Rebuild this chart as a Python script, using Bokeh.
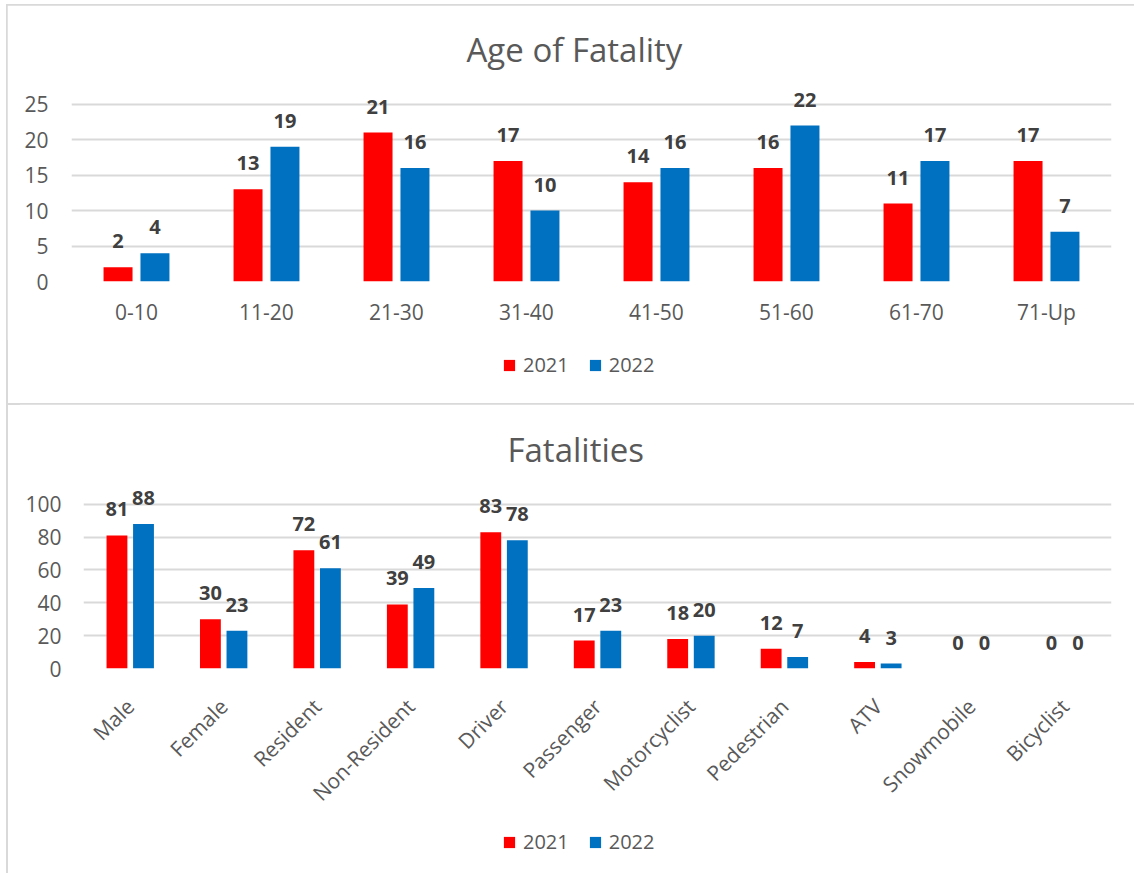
import math
from bokeh.plotting import figure
from bokeh.models import (FactorRange, Range1d, FixedTicker, Legend, LegendItem,
                          ColumnDataSource)
from bokeh.transform import dodge
from bokeh.layouts import column
from bokeh.embed import file_html
from bokeh.resources import INLINE
from bokeh.core.properties import value

# ---------------- data ----------------
years = ["2021", "2022"]

age_groups = ["0-10", "11-20", "21-30", "31-40", "41-50", "51-60", "61-70", "71-Up"]
age_2021 = [2, 13, 21, 17, 14, 16, 11, 17]
age_2022 = [4, 19, 16, 10, 16, 22, 17, 7]
age_ticks = [0, 5, 10, 15, 20, 25]

fatality_types = ["Male", "Female", "Resident", "Non-Resident", "Driver", "Passenger",
                  "Motorcyclist", "Pedestrian", "ATV", "Snowmobile", "Bicyclist"]
fat_2021 = [81, 30, 72, 39, 83, 17, 18, 12, 4, 0, 0]
fat_2022 = [88, 23, 61, 49, 78, 23, 20, 7, 3, 0, 0]
fat_ticks = [0, 20, 40, 60, 80, 100]

# ---------------- style ----------------
RED = "#FF0000"
BLUE = "#0070C0"
FONT = "Open Sans"
TXT = "#595959"
LBL = "#404040"
GRID = "#D9D9D9"
BOXW = 1130
OFF = 0.142
BW = 0.223


def make_chart(title, cats, v1, v2, ticks, ymax, width, height, bl, br, bt, bb,
               rotate, xstand, ystand, tstand, toff):
    src = ColumnDataSource(dict(cat=cats, v1=v1, v2=v2,
                                l1=[str(v) for v in v1], l2=[str(v) for v in v2]))
    p = figure(x_range=FactorRange(factors=cats, range_padding=0),
               y_range=Range1d(0, ymax), width=width, height=height,
               output_backend="svg", toolbar_location=None,
               min_border_left=bl, min_border_right=br,
               min_border_top=bt, min_border_bottom=bb)
    p.outline_line_color = None
    p.background_fill_color = "white"
    p.border_fill_color = "white"

    p.title.text = title
    p.title.align = "left"
    p.title.offset = toff
    p.title.text_font = FONT
    p.title.text_font_size = "33px"
    p.title.text_font_style = "normal"
    p.title.text_color = TXT
    p.title.standoff = tstand

    p.vbar(x=dodge("cat", -OFF, range=p.x_range), top="v1", width=BW,
           source=src, fill_color=RED, line_color=None)
    p.vbar(x=dodge("cat", OFF, range=p.x_range), top="v2", width=BW,
           source=src, fill_color=BLUE, line_color=None)

    for col, d in (("1", -OFF), ("2", OFF)):
        p.text(x=dodge("cat", d, range=p.x_range), y="v" + col, text="l" + col,
               source=src, text_align="center", text_baseline="middle",
               y_offset=-26, text_font=value(FONT), text_font_size="20px",
               text_font_style="bold", text_color=LBL)

    p.xgrid.visible = False
    p.ygrid.ticker = FixedTicker(ticks=ticks)
    p.ygrid.grid_line_color = GRID
    p.ygrid.grid_line_width = 2
    p.yaxis.ticker = FixedTicker(ticks=ticks)

    for ax in (p.xaxis, p.yaxis):
        ax.axis_line_color = None
        ax.major_tick_line_color = None
        ax.minor_tick_line_color = None
        ax.major_tick_out = 0
        ax.major_tick_in = 0
        ax.minor_tick_out = 0
        ax.minor_tick_in = 0
        ax.major_label_text_font = FONT
        ax.major_label_text_font_size = "21px"
        ax.major_label_text_color = TXT
    p.yaxis.major_label_standoff = ystand
    p.xaxis.major_label_standoff = xstand
    if rotate:
        p.xaxis.major_label_orientation = math.pi / 4
    return p, src


def make_legend(src, cats, height, loc):
    # legend strip below a chart; its proxy bars have non-numeric heights on a
    # numeric axis, so they are never drawn -- only the legend swatches show
    lf = figure(x_range=FactorRange(factors=cats, range_padding=0),
                y_range=Range1d(0, 1), width=BOXW, height=height,
                output_backend="svg", toolbar_location=None, min_border=0,
                x_axis_type=None, y_axis_type=None)
    lf.outline_line_color = None
    lf.title.visible = False
    lf.xgrid.visible = False
    lf.ygrid.visible = False
    lf.background_fill_alpha = 0
    lf.border_fill_alpha = 0
    r1 = lf.vbar(x="cat", top="cat", bottom="cat", width=0.2, source=src,
                 fill_color=RED, line_color=None)
    r2 = lf.vbar(x="cat", top="cat", bottom="cat", width=0.2, source=src,
                 fill_color=BLUE, line_color=None)
    legend = Legend(items=[LegendItem(label=years[0], renderers=[r1]),
                           LegendItem(label=years[1], renderers=[r2])],
                    orientation="horizontal", location=loc,
                    border_line_color=None, background_fill_alpha=0,
                    label_text_font=FONT, label_text_font_size="20px",
                    label_text_color=TXT, glyph_width=14, glyph_height=14,
                    label_standoff=7, spacing=19, padding=0, margin=0)
    lf.add_layout(legend, "center")
    return lf


p1, s1 = make_chart("Age of Fatality", age_groups, age_2021, age_2022, age_ticks,
                    27.5, BOXW, 335, 64, 26, 81, 59, False, 16, 23, 30, 395)
leg1 = make_legend(s1, age_groups, 64, (431, 26))

p2, s2 = make_chart("Fatalities", fatality_types, fat_2021, fat_2022, fat_ticks,
                    112, BOXW - 12, 415, 64, 26, 80, 150, True, 34, 22, 26, 424)
p2.margin = (0, 0, 0, 12)
leg2 = make_legend(s2, fatality_types, 57, (431, 21))

box1 = column(p1, leg1, spacing=0, margin=(5, 0, 0, 7),
              styles={"outline": "2px solid #D9D9D9", "outline-offset": "-1px",
                      "clip-path": "inset(-4px 3px -4px -4px)"})
box2 = column(p2, leg2, spacing=0, margin=(0, 0, 0, 7),
              styles={"outline": "2px solid #D9D9D9", "outline-offset": "-1px",
                      "clip-path": "inset(-4px 3px 3px -4px)"})

layout = column(box1, box2, spacing=0)
open("out.html", "w").write(file_html(layout, INLINE))
